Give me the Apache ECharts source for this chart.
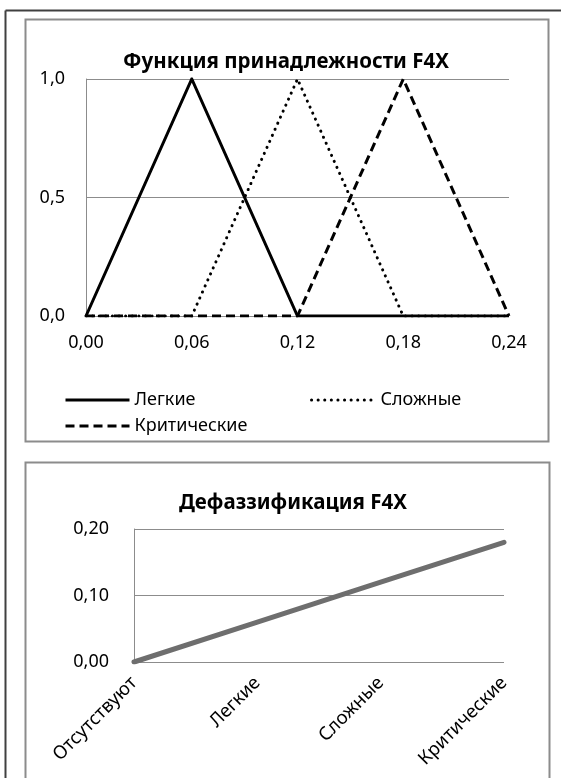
<!DOCTYPE html>
<html>
<head>
<meta charset="utf-8">
<script src="https://cdn.jsdelivr.net/npm/echarts@6/dist/echarts.min.js"></script>
<style>
  html, body { margin: 0; padding: 0; background: #ffffff; }
  #chart { width: 561px; height: 778px; }
</style>
</head>
<body>
<div id="chart"></div>
<script>
// Membership functions of the F4X variable
const xValues = [0, 0.06, 0.12, 0.18, 0.24];
const lightValues = [0, 1, 0, 0, 0];        // Легкие
const complexValues = [0, 0, 1, 0, 0];      // Сложные
const criticalValues = [0, 0, 0, 1, 0];     // Критические
const xTicks = [0, 0.06, 0.12, 0.18, 0.24];
const yTicks = [0, 0.5, 1];

// Defuzzification of F4X
const defuzzCategories = ['Отсутствуют', 'Легкие', 'Сложные', 'Критические'];
const defuzzValues = [0, 0.06, 0.12, 0.18];
const defuzzTicks = [0, 0.1, 0.2];

const FONT = 'Noto Sans';
const GRID_COLOR = '#8c8c8c';
const TICK_SIZE = 18;

function pairs(xs, ys) { return xs.map((x, i) => [x, ys[i]]); }
function comma(v, d) { return v.toFixed(d).replace('.', ','); }

const chart = echarts.init(document.getElementById('chart'), null, { renderer: 'canvas' });

const legendBase = {
  itemWidth: 64, itemHeight: 18, itemGap: 4,
  itemStyle: { opacity: 0 },
  lineStyle: { width: 3 },
  textStyle: { fontFamily: FONT, fontSize: 18, color: '#000', padding: [0, 0, 0, 0] }
};

const option = {
  animation: false,
  backgroundColor: '#ffffff',
  title: [
    {
      text: 'Функция принадлежности F4X',
      left: 281, top: 47, textAlign: 'center',
      textStyle: { fontFamily: FONT, fontWeight: 'bold', fontSize: 20.5, color: '#000' }
    },
    {
      text: 'Дефаззификация F4X',
      left: 288, top: 488, textAlign: 'center',
      textStyle: { fontFamily: FONT, fontWeight: 'bold', fontSize: 20.5, color: '#000' }
    }
  ],
  legend: [
    Object.assign({ data: ['Легкие'], left: 59, top: 386 }, legendBase),
    Object.assign({ data: ['Сложные'], left: 305, top: 386 }, legendBase),
    Object.assign({ data: ['Критические'], left: 59, top: 412 }, legendBase)
  ],
  grid: [
    { left: 86, right: 52, top: 79, bottom: 462 },
    { left: 134, right: 57, top: 529, bottom: 116 }
  ],
  xAxis: [
    {
      gridIndex: 0, type: 'value', min: 0, max: 0.24, interval: 0.06,
      axisLine: { show: false }, axisTick: { show: false }, splitLine: { show: false },
      axisLabel: { fontFamily: FONT, fontSize: TICK_SIZE, color: '#000', margin: 18,
        formatter: v => comma(v, 2) }
    },
    {
      gridIndex: 1, type: 'category', data: defuzzCategories, boundaryGap: false,
      axisLine: { show: false }, axisTick: { show: false }, splitLine: { show: false },
      axisLabel: { fontFamily: FONT, fontSize: 18.5, color: '#000', rotate: 45, margin: 18 }
    }
  ],
  yAxis: [
    {
      gridIndex: 0, type: 'value', min: 0, max: 1, interval: 0.5,
      axisLine: { show: true, lineStyle: { color: GRID_COLOR, width: 1 } },
      axisTick: { show: false },
      splitLine: { show: true, lineStyle: { color: GRID_COLOR, width: 1 } },
      axisLabel: { fontFamily: FONT, fontSize: TICK_SIZE, color: '#000', margin: 21,
        formatter: v => comma(v, 1) }
    },
    {
      gridIndex: 1, type: 'value', min: 0, max: 0.2, interval: 0.1,
      axisLine: { show: true, lineStyle: { color: GRID_COLOR, width: 1 } },
      axisTick: { show: false },
      splitLine: { show: true, lineStyle: { color: GRID_COLOR, width: 1 } },
      axisLabel: { fontFamily: FONT, fontSize: TICK_SIZE, color: '#000', margin: 25,
        formatter: v => comma(v, 2) }
    }
  ],
  series: [
    {
      name: 'Легкие', type: 'line', xAxisIndex: 0, yAxisIndex: 0,
      data: pairs(xValues, lightValues), symbol: 'none', color: '#000',
      lineStyle: { color: '#000', width: 3, type: 'solid', join: 'miter' }
    },
    {
      name: 'Сложные', type: 'line', xAxisIndex: 0, yAxisIndex: 0,
      data: pairs(xValues, complexValues), symbol: 'none', color: '#000',
      lineStyle: { color: '#000', width: 3, type: [0.1, 6.5], cap: 'round' }
    },
    {
      name: 'Критические', type: 'line', xAxisIndex: 0, yAxisIndex: 0,
      data: pairs(xValues, criticalValues), symbol: 'none', color: '#000',
      lineStyle: { color: '#000', width: 3, type: [9, 5] }
    },
    {
      name: 'Дефаззификация', type: 'line', xAxisIndex: 1, yAxisIndex: 1,
      data: defuzzValues, symbol: 'none', color: '#6e6e6e',
      lineStyle: { color: '#6e6e6e', width: 5, cap: 'round' }
    }
  ],
  graphic: [
    // frame around the whole sheet area
    { type: 'line', shape: { x1: 5.5, y1: 10.5, x2: 561, y2: 10.5 },
      style: { stroke: '#404040', lineWidth: 2 }, silent: true },
    { type: 'line', shape: { x1: 5.5, y1: 10.5, x2: 5.5, y2: 778 },
      style: { stroke: '#404040', lineWidth: 2 }, silent: true },
    // chart area borders
    { type: 'rect', shape: { x: 25.5, y: 19.5, width: 523, height: 422 },
      style: { fill: 'none', stroke: '#8c8c8c', lineWidth: 2 }, silent: true, z: -1 },
    { type: 'rect', shape: { x: 25.5, y: 462.5, width: 524, height: 340 },
      style: { fill: 'none', stroke: '#8c8c8c', lineWidth: 2 }, silent: true, z: -1 }
  ]
};

chart.setOption(option);
</script>
</body>
</html>
